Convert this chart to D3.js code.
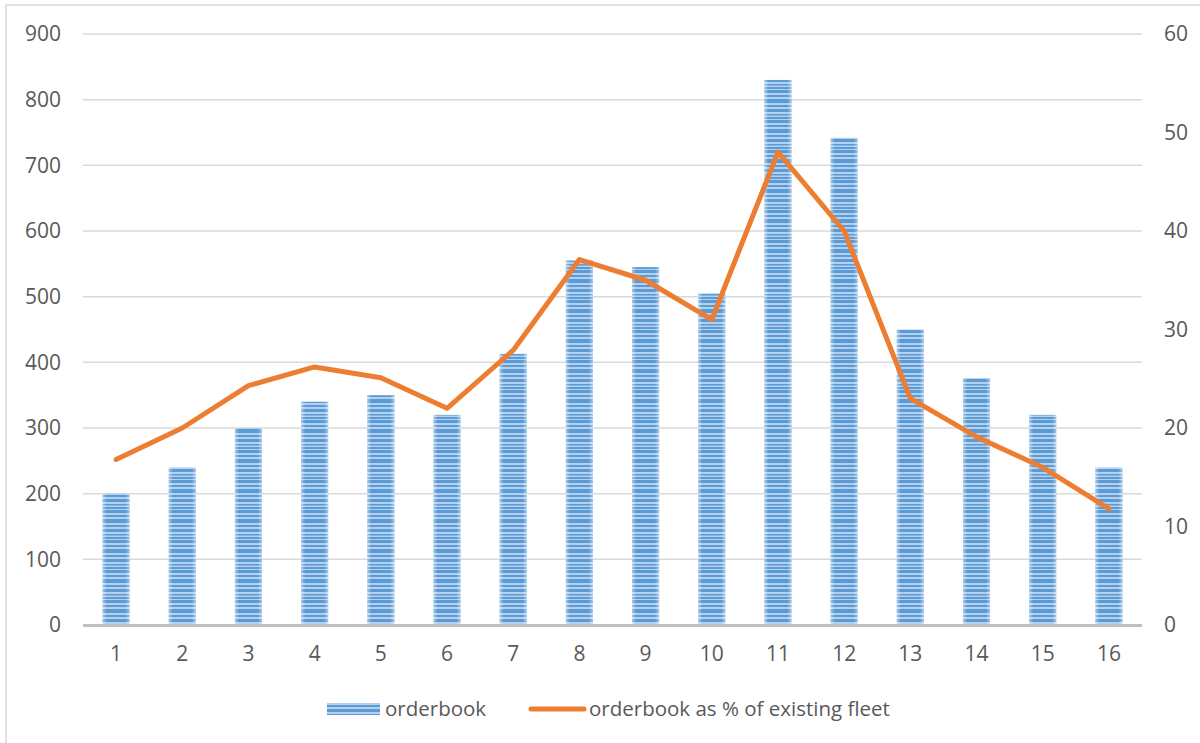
<!DOCTYPE html>
<html><head><meta charset="utf-8">
<script src="https://cdn.jsdelivr.net/npm/d3@7"></script>
<style>body{margin:0;background:#fff}svg{display:block}text{font-family:"Open Sans","Noto Sans",sans-serif;fill:#595959}</style>
</head><body><svg id="c" width="1200" height="743"></svg>
<script>
const categories = ["1","2","3","4","5","6","7","8","9","10","11","12","13","14","15","16"];
const orderbook = [200,240,300,340,350,320,413,555,545,505,830,742,450,376,320,240];
const pctFleet = [16.8,20.0,24.3,26.2,25.1,22.0,27.9,37.1,35.0,31.0,48.0,40.0,23.0,19.1,16.0,11.8];
const leftTicks = [0,100,200,300,400,500,600,700,800,900];
const rightTicks = [0,10,20,30,40,50,60];
const seriesNames = ["orderbook","orderbook as % of existing fleet"];

const svg = d3.select("#c");
const m = {l:83, r:1142, t:34, b:625};
svg.append("rect").attr("x",6).attr("y",5).attr("width",1200).attr("height",760)
  .attr("fill","none").attr("stroke","#D9D9D9").attr("stroke-width",1.5);

const x = d3.scaleBand().domain(categories).range([m.l,m.r]).paddingInner(0.59).paddingOuter(0.295);
const yL = d3.scaleLinear().domain([0,900]).range([m.b,m.t]);
const yR = d3.scaleLinear().domain([0,60]).range([m.b,m.t]);

const defs = svg.append("defs");
const pat = defs.append("pattern").attr("id","stripes").attr("patternUnits","userSpaceOnUse")
  .attr("width",40).attr("height",30).attr("y",0);
pat.append("rect").attr("width",40).attr("height",30).attr("fill","#B4D0EE");
[[0,3],[5,2],[9,4],[15,2],[19,3],[24,1.5],[27,2]].forEach(([yy,h])=>{
  pat.append("rect").attr("x",0).attr("y",yy).attr("width",40).attr("height",h).attr("fill","#5B9BD5");
});
const g = defs.append("linearGradient").attr("id","edge").attr("x1","0").attr("x2","1");
g.append("stop").attr("offset","0").attr("stop-color","#fff").attr("stop-opacity",0.45);
g.append("stop").attr("offset","0.15").attr("stop-color","#fff").attr("stop-opacity",0);
g.append("stop").attr("offset","0.85").attr("stop-color","#fff").attr("stop-opacity",0);
g.append("stop").attr("offset","1").attr("stop-color","#fff").attr("stop-opacity",0.45);

svg.append("g").selectAll("line").data(leftTicks.filter(d=>d>0)).join("line")
  .attr("x1",m.l).attr("x2",m.r).attr("y1",d=>yL(d)).attr("y2",d=>yL(d))
  .attr("stroke","#D9D9D9").attr("stroke-width",1.5);

const bars = svg.append("g");
bars.selectAll("rect.b").data(orderbook).join("rect").attr("class","b")
  .attr("x",(d,i)=>x(categories[i])).attr("width",x.bandwidth())
  .attr("y",d=>yL(d)).attr("height",d=>yL(0)-yL(d)).attr("fill","url(#stripes)");
bars.selectAll("rect.e").data(orderbook).join("rect").attr("class","e")
  .attr("x",(d,i)=>x(categories[i])).attr("width",x.bandwidth())
  .attr("y",d=>yL(d)).attr("height",d=>yL(0)-yL(d)).attr("fill","url(#edge)");

svg.append("line").attr("x1",m.l).attr("x2",m.r).attr("y1",m.b+0.5).attr("y2",m.b+0.5)
  .attr("stroke","#BFBFBF").attr("stroke-width",3);

const line = d3.line().x((d,i)=>x(categories[i])+x.bandwidth()/2).y(d=>yR(d));
svg.append("path").datum(pctFleet).attr("d",line).attr("fill","none")
  .attr("stroke","#ED7D31").attr("stroke-width",5).attr("stroke-linejoin","round").attr("stroke-linecap","round");

const fs = 21;
const axL = d3.axisLeft(yL).tickValues(leftTicks).tickSize(0).tickPadding(22);
const gl = svg.append("g").attr("transform",`translate(${m.l},0)`).call(axL);
const axR = d3.axisRight(yR).tickValues(rightTicks).tickSize(0).tickPadding(22);
const gr = svg.append("g").attr("transform",`translate(${m.r},0)`).call(axR);
const axB = d3.axisBottom(x).tickSize(0).tickPadding(21);
const gb = svg.append("g").attr("transform",`translate(0,${m.b})`).call(axB);
[gl,gr,gb].forEach(a=>{a.select(".domain").remove();
  a.selectAll("text").attr("font-size",fs).style("fill","#595959").attr("font-family","'Open Sans','Noto Sans',sans-serif");});

const lfs = 20.5;
const lg = svg.append("g");
lg.append("rect").attr("x",327).attr("y",703).attr("width",53).attr("height",12).attr("fill","url(#stripes)");
lg.append("text").attr("x",385).attr("y",716).attr("font-size",lfs).text(seriesNames[0]);
lg.append("line").attr("x1",531).attr("x2",584).attr("y1",709).attr("y2",709)
  .attr("stroke","#ED7D31").attr("stroke-width",5).attr("stroke-linecap","round");
lg.append("text").attr("x",589).attr("y",716).attr("font-size",lfs).text(seriesNames[1]);
</script></body></html>
